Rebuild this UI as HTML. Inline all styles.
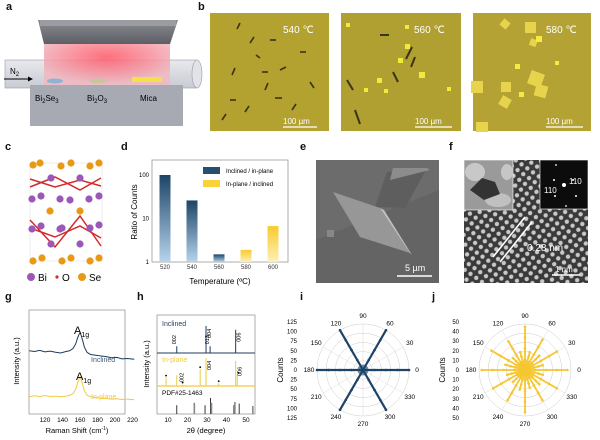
<!DOCTYPE html>
<html><head><meta charset="utf-8">
<style>
body{margin:0;background:#fff;font-family:"Liberation Sans",sans-serif;}
#fig{position:relative;width:600px;height:440px;overflow:hidden;background:#fff}
.pl{position:absolute;font-weight:bold;font-size:11px;color:#111}
svg text{font-family:"Liberation Sans",sans-serif}
</style></head>
<body>
<div id="fig">
<div class="pl" style="left:6px;top:1px">a</div>
<div class="pl" style="left:198px;top:1px">b</div>
<div class="pl" style="left:5px;top:141px">c</div>
<div class="pl" style="left:121px;top:141px">d</div>
<div class="pl" style="left:300px;top:141px">e</div>
<div class="pl" style="left:449px;top:141px">f</div>
<div class="pl" style="left:5px;top:291px">g</div>
<div class="pl" style="left:137px;top:291px">h</div>
<div class="pl" style="left:300px;top:291px">i</div>
<div class="pl" style="left:432px;top:291px">j</div>

<svg width="600" height="440" style="position:absolute;left:0;top:0" id="main">
<defs>
<linearGradient id="topblk" x1="0" y1="0" x2="0" y2="1"><stop offset="0" stop-color="#8a8c92"/><stop offset="1" stop-color="#5d5f66"/></linearGradient>
<radialGradient id="glow" cx="0.5" cy="0.3" r="0.6"><stop offset="0" stop-color="#ff5566"/><stop offset="1" stop-color="#f0b8c0"/></radialGradient>
<linearGradient id="tube" x1="0" y1="0" x2="0" y2="1"><stop offset="0" stop-color="#e8e9ee"/><stop offset="1" stop-color="#c9cbd3"/></linearGradient>
<linearGradient id="blueBar" x1="0" y1="0" x2="0" y2="1"><stop offset="0" stop-color="#1d4467"/><stop offset="1" stop-color="#b6d4ec"/></linearGradient>
<linearGradient id="yelBar" x1="0" y1="0" x2="0" y2="1"><stop offset="0" stop-color="#f8cb2e"/><stop offset="1" stop-color="#fdefb8"/></linearGradient>
<pattern id="lat" width="7" height="7" patternUnits="userSpaceOnUse" patternTransform="rotate(35)"><rect width="7" height="7" fill="#3a3a3a"/><circle cx="3.5" cy="3.5" r="2.2" fill="#c8c8c8"/></pattern>
</defs>

<!-- panel a -->
<g>
<rect x="30" y="84" width="153" height="42" fill="#a7a9b3"/>
<rect x="5" y="60" width="192" height="28" fill="url(#tube)" stroke="#9a9ca4" stroke-width="0.6"/>
<ellipse cx="197" cy="74" rx="5" ry="14" fill="#e2e3e8" stroke="#9a9ca4" stroke-width="0.6"/>
<rect x="44" y="44" width="126" height="44" fill="url(#glow)" opacity="0.85"/>
<polygon points="38,20 178,20 170,44 44,44" fill="url(#topblk)"/>
<rect x="40" y="20" width="136" height="6" fill="#9a9ca2"/>
<ellipse cx="55" cy="81" rx="8" ry="2.5" fill="#8fb3d3"/>
<ellipse cx="98" cy="81" rx="8" ry="2.5" fill="#c9c4a0"/>
<rect x="132" y="77" width="30" height="5" fill="#f4e14a"/>
<rect x="30" y="85" width="153" height="41" fill="#a7a9b3"/>
<text x="10" y="74" font-size="8">N<tspan font-size="6" dy="2">2</tspan></text>
<line x1="4" y1="79" x2="30" y2="79" stroke="#000" stroke-width="1"/><polygon points="33,79 28,76.5 28,81.5" fill="#000"/>
<text x="35" y="101" font-size="8">Bi<tspan font-size="6" dy="2">2</tspan><tspan dy="-2">Se</tspan><tspan font-size="6" dy="2">3</tspan></text>
<text x="87" y="101" font-size="8">Bi<tspan font-size="6" dy="2">2</tspan><tspan dy="-2">O</tspan><tspan font-size="6" dy="2">3</tspan></text>
<text x="140" y="101" font-size="8">Mica</text>
</g>

<!-- panel b -->
<g>
<rect x="210" y="13" width="119" height="118" fill="#b3a130"/>
<g stroke="#3a3418" stroke-width="1.6">
<line x1="237" y1="29" x2="240" y2="23"/><line x1="250" y1="43" x2="254" y2="37"/><line x1="270" y1="40" x2="276" y2="40"/><line x1="232" y1="75" x2="235" y2="68"/><line x1="262" y1="72" x2="268" y2="72"/><line x1="280" y1="70" x2="286" y2="67"/><line x1="265" y1="90" x2="268" y2="83"/><line x1="230" y1="100" x2="236" y2="100"/><line x1="245" y1="112" x2="249" y2="106"/><line x1="275" y1="98" x2="282" y2="98"/><line x1="300" y1="52" x2="306" y2="52"/><line x1="292" y1="110" x2="296" y2="104"/><line x1="310" y1="82" x2="314" y2="88"/><line x1="256" y1="55" x2="260" y2="58"/><line x1="222" y1="120" x2="226" y2="114"/>
</g>
<text x="283" y="33" font-size="10" fill="#fff">540 ℃</text>
<line x1="283" y1="127" x2="317" y2="127" stroke="#fff" stroke-width="1.2"/><text x="283" y="124" font-size="8" fill="#fff">100 µm</text>
</g>
<g>
<rect x="341" y="13" width="120" height="118" fill="#b0a032"/>
<g stroke="#3a3418" stroke-width="2"><line x1="380" y1="35" x2="389" y2="35"/><line x1="415" y1="57" x2="411" y2="67"/><line x1="347" y1="80" x2="353" y2="90"/><line x1="393" y1="72" x2="398" y2="82"/><line x1="355" y1="110" x2="360" y2="124"/><line x1="412" y1="47" x2="406" y2="59"/></g>
<g fill="#f2ea3a"><rect x="346" y="23" width="4" height="4"/><rect x="405" y="44" width="5" height="5"/><rect x="398" y="58" width="5" height="5"/><rect x="419" y="72" width="6" height="6"/><rect x="377" y="78" width="5" height="5"/><rect x="364" y="88" width="4" height="4"/><rect x="447" y="87" width="4" height="4"/><rect x="384" y="89" width="4" height="4"/><rect x="405" y="25" width="4" height="4"/></g>
<text x="414" y="33" font-size="10" fill="#fff">560 ℃</text>
<line x1="415" y1="127" x2="452" y2="127" stroke="#fff" stroke-width="1.2"/><text x="415" y="124" font-size="8" fill="#fff">100 µm</text>
</g>
<g>
<rect x="473" y="13" width="118" height="118" fill="#b4a234"/>
<g fill="#e8d44c"><rect x="501" y="20" width="8" height="8" transform="rotate(40 505 24)"/><rect x="501" y="82" width="10" height="10"/><rect x="529" y="72" width="14" height="14" transform="rotate(20 536 79)"/><rect x="471" y="81" width="12" height="12"/><rect x="525" y="22" width="11" height="11"/><rect x="535" y="85" width="12" height="12" transform="rotate(15 541 91)"/><rect x="500" y="97" width="10" height="10" transform="rotate(30 505 102)"/><rect x="476" y="122" width="12" height="10"/><rect x="530" y="39" width="7" height="7" transform="rotate(20 533 42)"/></g>
<g fill="#f5ea40"><rect x="536" y="36" width="6" height="6"/><rect x="519" y="92" width="5" height="5"/><rect x="515" y="64" width="5" height="5"/><rect x="555" y="61" width="4" height="4"/></g>
<text x="546" y="33" font-size="10" fill="#fff">580 ℃</text>
<line x1="546" y1="127" x2="583" y2="127" stroke="#fff" stroke-width="1.2"/><text x="546" y="124" font-size="8" fill="#fff">100 µm</text>
</g>

<!-- panel c -->
<g id="crystal">
<rect x="30" y="163" width="72" height="98" fill="none" stroke="#ddd" stroke-width="0.5"/>
</g>
<g>
<circle cx="31" cy="277" r="4" fill="#9c58b8"/><text x="38" y="281" font-size="10">Bi</text>
<circle cx="57" cy="277" r="1.6" fill="#d42a2a"/><text x="62" y="281" font-size="10">O</text>
<circle cx="82" cy="277" r="4" fill="#e89a14"/><text x="89" y="281" font-size="10">Se</text>
</g>

<!-- panel e -->
<g>
<rect x="316" y="160" width="123" height="123" fill="#6c6c6c"/>
<polygon points="316,240 439,190 439,283 316,283" fill="#646464"/>
<polygon points="387,172 427,168 405,208 375,207" fill="#5e5e5e"/>
<polygon points="393,168 427,168 430,170 390,180" fill="#8c8c8c"/>
<polygon points="333,192 380,208 410,253 360,237" fill="#979797"/>
<polygon points="380,208 410,253 412,255 384,210" fill="#c0c0c0"/>
<rect x="327" y="230" width="7" height="7" fill="#888"/>
<text x="405" y="271" font-size="9" fill="#fff">5 µm</text>
<line x1="397" y1="276" x2="432" y2="276" stroke="#fff" stroke-width="1.4"/>
</g>

<!-- panel f -->
<g>
<rect x="464" y="160" width="124" height="123" fill="url(#lat)"/>
<rect x="464" y="160" width="49" height="50" fill="#9a9a9a" stroke="#fff" stroke-width="0.6"/>
<ellipse cx="475" cy="172" rx="10" ry="9" fill="#c8c8c8"/><ellipse cx="498" cy="200" rx="13" ry="7" fill="#c0c0c0"/><ellipse cx="507" cy="172" rx="6" ry="8" fill="#c6c6c6"/>
<path d="M470 190 L482 178 L495 182 L500 194 L484 200 Z" fill="#333"/>
<rect x="540" y="160" width="48" height="49" fill="#0c0c0c" stroke="#fff" stroke-width="0.6"/>
<g fill="#fff"><circle cx="556" cy="165" r="0.9"/><circle cx="564" cy="185" r="2"/><circle cx="554" cy="180" r="1"/><circle cx="573" cy="180" r="1"/><circle cx="555" cy="196" r="1"/><circle cx="576" cy="196" r="1"/><circle cx="566" cy="206" r="0.9"/></g>
<text x="544" y="193" font-size="8" fill="#fff">110</text><text x="569" y="184" font-size="8" fill="#fff">110</text>
<line x1="493" y1="257" x2="525" y2="217" stroke="#fff" stroke-width="1.6"/><line x1="500" y1="262" x2="532" y2="222" stroke="#fff" stroke-width="1.6"/>
<text x="527" y="251" font-size="10" fill="#fff">0.28 nm</text>
<line x1="552" y1="275" x2="580" y2="275" stroke="#fff" stroke-width="1.4"/><text x="555" y="272" font-size="8" fill="#fff">1 nm</text>
</g>

<g id="chartD"></g>
<g id="chartG"></g>
<g id="chartH"></g>
<g id="chartI"></g>
<g id="chartJ"></g>
</svg>
</div>
<script>
var NS="http://www.w3.org/2000/svg";
function mk(p,t,a,txt){var e=document.createElementNS(NS,t);for(var k in a)e.setAttribute(k,a[k]);if(txt!==undefined)e.textContent=txt;p.appendChild(e);return e;}

// ---------- crystal (panel c) ----------
var cr=document.getElementById('crystal');
[[33,165],[40,163],[61,166],[71,163],[90,166],[99,163],[50,211],[80,211],[33,261],[42,258],[62,261],[71,258],[90,261],[99,258]].forEach(function(p){var c=mk(cr,'circle',{cx:p[0],cy:p[1],r:3.6,fill:'#e89a14'});});
[[30,187,55,177,80,190,101,178],[30,228,55,237,80,226,101,238]].forEach(function(L){
  mk(cr,'polyline',{points:[L[0],L[1],L[2],L[3],L[4],L[5],L[6],L[7]].join(' ')+' ',fill:'none',stroke:'#d42a2a','stroke-width':1.5});
  mk(cr,'polyline',{points:L[0]+','+(L[1]-8)+' '+L[2]+','+(L[3]+10)+' '+L[4]+','+(L[5]-10)+' '+L[6]+','+(L[7]+8),fill:'none',stroke:'#d42a2a','stroke-width':1.5});
});
[[32,199],[41,196],[60,199],[51,178],[80,178],[89,199],[99,196],[32,229],[41,226],[60,229],[62,228],[90,228],[99,225],[51,244],[80,244],[70,200]].forEach(function(p){var c=mk(cr,'circle',{cx:p[0],cy:p[1],r:3.6,fill:'#9c58b8'});});

// ---------- panel d data ----------
var dTemps=["520","540","560","580","600"];
var dValues=[100,26,1.5,1.9,6.7];
var dSeries=["inclined","inclined","inclined","inplane","inplane"];
var dTicks=[1,10,100];
(function(){
  var g=document.getElementById('chartD');
  var L=152,R=288,T=160,B=262;
  function y(v){return B-Math.log10(v)*43.5;}
  function x(i){return 165+i*27;}
  var f=mk(g,'rect',{x:L,y:T,width:R-L,height:B-T,fill:'none',stroke:'#999','stroke-width':0.8});
  
  dTicks.forEach(function(t){var e=mk(g,'text',{x:L-3,y:y(t)+2,'font-size':6,'text-anchor':'end'},t);});
  dValues.forEach(function(v,i){
    var b=mk(g,'rect',{x:x(i)-5.5,y:y(v),width:11,height:B-y(v),fill:dSeries[i]=='inclined'?'url(#blueBar)':'url(#yelBar)'});
    
    var t=mk(g,'text',{x:x(i),y:B+7,'font-size':6,'text-anchor':'middle',fill:'#333'},dTemps[i]);
    
  });
  var xt=mk(g,'text',{x:220,y:284,'font-size':8,'text-anchor':'middle'},'Temperature (ºC)');
  var yt=mk(g,'text',{x:0,y:0,'font-size':8,'text-anchor':'middle',transform:'translate(137,212) rotate(-90)'},'Ratio of Counts');
  var s1=mk(g,'rect',{x:203,y:167,width:17,height:7,fill:'#27506f'});
  var l1=mk(g,'text',{x:226,y:173,'font-size':6},'Inclined / in-plane');
  var s2=mk(g,'rect',{x:203,y:180,width:17,height:7,fill:'#f9d138'});
  var l2=mk(g,'text',{x:226,y:186,'font-size':6},'In-plane / inclined');
})();

// ---------- panel g data ----------
var gShift=[102,108,114,120,126,132,138,144,148,152,155,157,159,160,161,163,165,168,172,178,184,190,196,202,208,214,222];
var gInclined=[0.52,0.50,0.53,0.49,0.51,0.48,0.46,0.50,0.52,0.58,0.70,0.85,0.97,1.0,0.96,0.80,0.62,0.48,0.42,0.40,0.38,0.36,0.33,0.34,0.30,0.31,0.29];
var gInplane=[0.40,0.43,0.41,0.44,0.41,0.42,0.40,0.42,0.44,0.50,0.62,0.80,0.95,1.0,0.95,0.78,0.58,0.45,0.40,0.37,0.36,0.35,0.33,0.34,0.32,0.33,0.31];
var gTicks=[120,140,160,180,200,220];
(function(){
  var g=document.getElementById('chartG');
  var L=29,R=125,T=310,B=414;
  function x(v){return 45+(v-120)*0.875;}
  function yI(v){return 370-v*37;}
  function yP(v){return 410-v*33;}
  var f=mk(g,'rect',{x:L,y:T,width:R-L,height:B-T,fill:'none',stroke:'#999','stroke-width':0.8});
  var p1=mk(g,'polyline',{points:gShift.map(function(s,i){return x(s)+','+yI(gInclined[i]);}).join(' '),fill:'none',stroke:'#1f3b58','stroke-width':1});
  var p2=mk(g,'polyline',{points:gShift.map(function(s,i){return x(s)+','+yP(gInplane[i]);}).join(' '),fill:'none',stroke:'#f2c93e','stroke-width':1});
  gTicks.forEach(function(t){var e=mk(g,'text',{x:x(t),y:B+8,'font-size':6.5,'text-anchor':'middle'},t);});
  var a1=mk(g,'text',{x:74,y:334,'font-size':11},'A');mk(a1,'tspan',{'font-size':7,dy:3},'1g');
  var a2=mk(g,'text',{x:76,y:380,'font-size':11},'A');mk(a2,'tspan',{'font-size':7,dy:3},'1g');
  var t1=mk(g,'text',{x:91,y:362,'font-size':7,fill:'#3a5a78'},'Inclined');
  var t2=mk(g,'text',{x:91,y:399,'font-size':7,fill:'#f2c93e'},'In-plane');
  var xt=mk(g,'text',{x:77,y:433,'font-size':7.5,'text-anchor':'middle'},'Raman Shift (cm');mk(xt,'tspan',{'font-size':5,dy:-3},'-1');mk(xt,'tspan',{dy:3},')');
  var yt=mk(g,'text',{x:0,y:0,'font-size':7.5,'text-anchor':'middle',transform:'translate(19,361) rotate(-90)'},'Intensity (a.u.)');
})();

// ---------- panel h data ----------
var hIncPos=[14.5,29.5,31.6,44.7];
var hIncH=[0.25,1.0,0.25,0.86];
var hIncLab=["002","004","013","006"];
var hInpPos=[9,14.5,17.5,26.5,29.5,36,44.7,45.5];
var hInpH=[0.3,0.38,0.05,0.6,1.0,0.1,0.9,0.4];
var hPdfPos=[14.5,23.5,29,31.8,32.3,43.8,44.3,46.5,53.5];
var hPdfH=[0.55,0.7,0.55,1.0,0.7,0.55,0.75,0.65,0.5];
var hPdfGray=[0,1,0,0,1,0,1,0,1];
var hTicks=[10,20,30,40,50];
(function(){
  var g=document.getElementById('chartH');
  var L=157,R=255,T=315,B=414;
  function x(v){return 168+(v-10)*1.95;}
  var f=mk(g,'rect',{x:L,y:T,width:R-L,height:B-T,fill:'none',stroke:'#999','stroke-width':0.8});
  mk(g,'line',{x1:L,y1:353,x2:R,y2:353,stroke:'#1f3b58','stroke-width':1});
  mk(g,'line',{x1:L,y1:386,x2:R,y2:386,stroke:'#f2c93e','stroke-width':1.2});
  hIncPos.forEach(function(p,i){var l=mk(g,'line',{x1:x(p),y1:353,x2:x(p),y2:353-hIncH[i]*27,stroke:'#1f3b58','stroke-width':1});
    var top=353-hIncH[i]*27; var tx=x(p)+(i==1||i==3?5:-1); var ty=(i==1||i==3)?top+12:top-2;
    var t=mk(g,'text',{x:0,y:0,'font-size':5.5,transform:'translate('+tx+','+ty+') rotate(-90)'},hIncLab[i]);});
  hInpPos.forEach(function(p,i){var l=mk(g,'line',{x1:x(p),y1:386,x2:x(p),y2:386-hInpH[i]*28,stroke:'#f2c93e','stroke-width':1});});
  [9,17.5,26.5,36,45.5].forEach(function(p,i){var v=hInpH[hInpPos.indexOf(p)];mk(g,'circle',{cx:x(p)+(i==4?1:0),cy:386-v*28-2,r:0.9,fill:'#000'});});
  mk(g,'text',{x:0,y:0,'font-size':5.5,transform:'translate('+(x(17.5)+1)+',382) rotate(-90)'},'002');
  mk(g,'text',{x:0,y:0,'font-size':5.5,transform:'translate('+(x(29.5)+5)+',370) rotate(-90)'},'004');
  mk(g,'text',{x:0,y:0,'font-size':5.5,transform:'translate('+(x(44.7)+6)+',376) rotate(-90)'},'006');
  var t1=mk(g,'text',{x:162,y:326,'font-size':7,fill:'#1f3b58'},'Inclined');
  var t2=mk(g,'text',{x:162,y:362,'font-size':7,fill:'#f2c93e'},'In-plane');
  var t3=mk(g,'text',{x:162,y:395,'font-size':6.5},'PDF#25-1463');
  hPdfPos.forEach(function(p,i){var l=mk(g,'line',{x1:x(p),y1:B,x2:x(p),y2:B-hPdfH[i]*16,stroke:hPdfGray[i]?'#888':'#222','stroke-width':hPdfGray[i]?1.6:0.9});});
  hTicks.forEach(function(t){var e=mk(g,'text',{x:x(t),y:B+8,'font-size':6.5,'text-anchor':'middle'},t);});
  var xt=mk(g,'text',{x:206,y:433,'font-size':7.5,'text-anchor':'middle'},'2θ (degree)');
  var yt=mk(g,'text',{x:0,y:0,'font-size':7.5,'text-anchor':'middle',transform:'translate(149,364) rotate(-90)'},'Intensity (a.u.)');
})();

// ---------- polar data ----------
var iAngles=[0,60,120,180,240,300];
var iCounts=[125,125,125,125,125,125];
var iTicks=[125,100,75,50,25,0,25,50,75,100,125];
var jAngles=[0,15,30,45,60,75,90,105,120,135,150,165,180,195,210,225,240,255,270,285,300,315,330,345];
var jCounts=[46,20,40,22,38,20,47,20,36,18,42,22,47,20,40,18,38,22,46,20,38,22,40,20];
var jTicks=[50,40,30,20,10,0,10,20,30,40,50];
var polarLabels=[0,30,60,90,120,150,180,210,240,270,300,330];
function polar(id,cx,cy,R,max,angles,counts,ticks,color,sw){
  var g=document.getElementById(id);
  for(var k=1;k<=5;k++)mk(g,'circle',{cx:cx,cy:cy,r:R*k/5,fill:'none',stroke:'#ccc','stroke-width':0.5});
  polarLabels.forEach(function(a){var r=a*Math.PI/180;mk(g,'line',{x1:cx,y1:cy,x2:cx+R*Math.cos(r),y2:cy-R*Math.sin(r),stroke:'#ddd','stroke-width':0.5});
    var t=mk(g,'text',{x:cx+(R+8)*Math.cos(r),y:cy-(R+8)*Math.sin(r)+2.2,'font-size':6.5,'text-anchor':'middle'},a);});
  ticks.forEach(function(t,i){var e=mk(g,'text',{x:cx-66,y:cy-48+i*9.6+2,'font-size':6,'text-anchor':'end'},t);});
  var yt=mk(g,'text',{x:0,y:0,'font-size':8,'text-anchor':'middle',transform:'translate('+(cx-80)+','+cy+') rotate(-90)'},'Counts');
  angles.forEach(function(a,i){var r=a*Math.PI/180,len=counts[i]/max*R;
    var l=mk(g,'line',{x1:cx,y1:cy,x2:cx+len*Math.cos(r),y2:cy-len*Math.sin(r),stroke:color,'stroke-width':sw});
    
    for(var s=1;s<=4;s++)mk(g,'circle',{cx:cx+len*s/4*Math.cos(r),cy:cy-len*s/4*Math.sin(r),r:1.3,fill:color});
  });
  mk(g,'circle',{cx:cx,cy:cy,r:R*0.12,fill:color,opacity:0.6});
}
polar('chartI',363,370,46,125,iAngles,iCounts,iTicks,'#1d4467',2.2);
polar('chartJ',525,370,46,50,jAngles,jCounts,jTicks,'#f5c62e',1.8);
</script>
</body></html>
